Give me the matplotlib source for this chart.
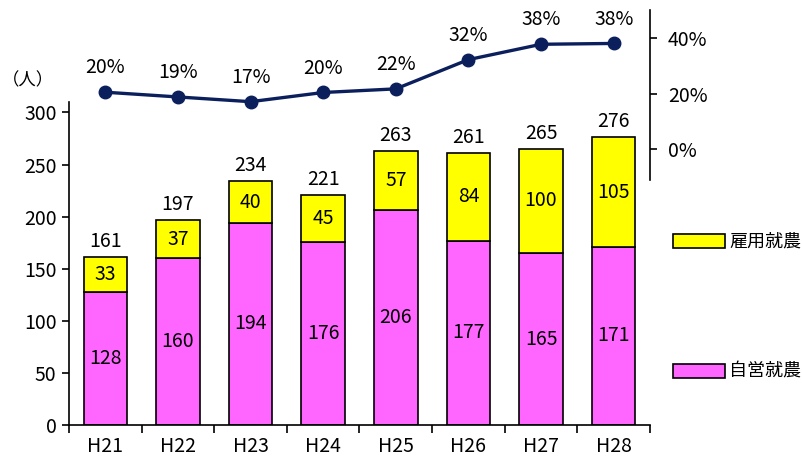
import matplotlib.pyplot as plt
from matplotlib.patches import Patch

plt.rcParams['font.family'] = ['Noto Sans CJK JP', 'DejaVu Sans']

# Data
years = ["H21", "H22", "H23", "H24", "H25", "H26", "H27", "H28"]
self_employed = [128, 160, 194, 176, 206, 177, 165, 171]   # 自営就農
hired = [33, 37, 40, 45, 57, 84, 100, 105]                   # 雇用就農
totals = [161, 197, 234, 221, 263, 261, 265, 276]
hired_share = [0.205, 0.188, 0.171, 0.204, 0.217, 0.322, 0.377, 0.380]
share_labels = ["20%", "19%", "17%", "20%", "22%", "32%", "38%", "38%"]

MAGENTA = "#FF66FF"
YELLOW = "#FFFF00"
NAVY = "#0B1F5C"
FS = 14

fig = plt.figure(figsize=(8.03, 4.66), dpi=100)

# Bars
ax = fig.add_axes([69 / 803, 41 / 466, 581 / 803, 323 / 466])
x = list(range(len(years)))
ax.bar(x, self_employed, width=0.6, color=MAGENTA, edgecolor="black", linewidth=1.2)
ax.bar(x, hired, width=0.6, bottom=self_employed, color=YELLOW, edgecolor="black", linewidth=1.2)

for i in x:
    ax.text(i, self_employed[i] / 2, str(self_employed[i]), ha="center", va="center", fontsize=FS)
    ax.text(i, self_employed[i] + hired[i] / 2, str(hired[i]), ha="center", va="center", fontsize=FS)
    ax.text(i, totals[i] + 5, str(totals[i]), ha="center", va="bottom", fontsize=FS)

ax.set_xlim(-0.5, len(years) - 0.5)
ax.set_ylim(0, 310)
ax.set_yticks(range(0, 301, 50))
ax.set_xticks(x)
ax.set_xticklabels(years)
ax.set_xticks([i - 0.5 for i in range(len(years) + 1)], minor=True)
ax.tick_params(axis="x", which="major", length=0, pad=8, labelsize=FS)
ax.tick_params(axis="x", which="minor", length=6, width=1.2, direction="out")
ax.tick_params(axis="y", length=5, width=1.2, direction="out", labelsize=FS, pad=4)
ax.spines["top"].set_visible(False)
ax.spines["right"].set_visible(False)
ax.spines["left"].set_linewidth(1.2)
ax.spines["bottom"].set_linewidth(1.2)

fig.text(28 / 803, 1 - 80 / 466, "（人）", ha="center", va="center", fontsize=12.5)

# Share line on secondary axis
ax2 = fig.add_axes([69 / 803, 286 / 466, 581 / 803, 170 / 466])
ax2.patch.set_alpha(0)
ax2.plot(x, hired_share, color=NAVY, linewidth=2.4, marker="o", markersize=9)
for i in x:
    ax2.text(i, hired_share[i] + 0.05, share_labels[i], ha="center", va="bottom", fontsize=FS)
ax2.set_xlim(-0.5, len(years) - 0.5)
ax2.set_ylim(-0.11, 0.50)
ax2.set_yticks([0, 0.2, 0.4])
ax2.set_yticklabels(["0%", "20%", "40%"])
ax2.yaxis.tick_right()
ax2.set_xticks([])
for s in ["top", "left", "bottom"]:
    ax2.spines[s].set_visible(False)
ax2.spines["right"].set_linewidth(1.2)
ax2.tick_params(axis="y", length=5, width=1.2, direction="out", labelsize=FS, pad=8)

# Legend (two entries placed far apart, as in the original)
legend_items = [(YELLOW, "雇用就農", 242), (MAGENTA, "自営就農", 372)]
for color, label, ypix in legend_items:
    fig.legend([Patch(facecolor=color, edgecolor="black", linewidth=1.2)], [label],
               loc="center left", bbox_to_anchor=(673 / 803, 1 - ypix / 466),
               frameon=False, fontsize=13, borderpad=0, borderaxespad=0,
               handlelength=2.9, handleheight=0.8, handletextpad=0.2)

fig.savefig("out.png", dpi=100)
